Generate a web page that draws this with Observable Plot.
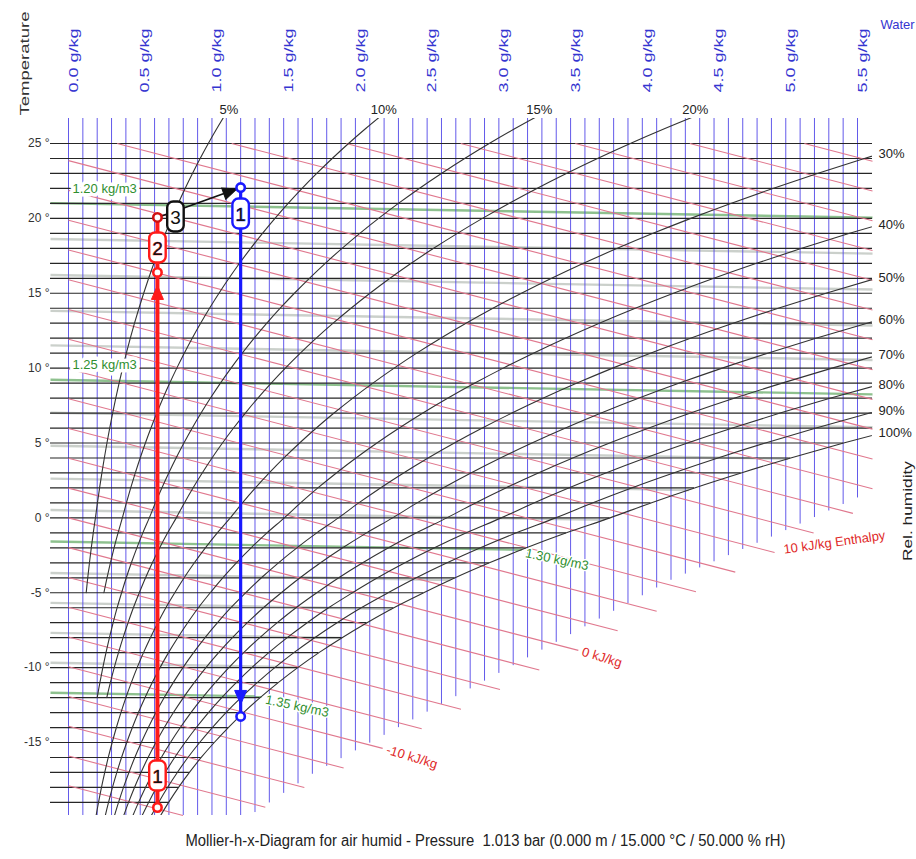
<!DOCTYPE html>
<html><head><meta charset="utf-8">
<script src="https://cdn.jsdelivr.net/npm/d3@7"></script>
<script src="https://cdn.jsdelivr.net/npm/@observablehq/plot@0.6"></script>
<style>body{margin:0;background:#fff} #chart svg{display:block}</style>
</head><body><div id="chart"></div>
<script>
// ---------------- data ----------------
const waterTicks = [0, 0.5, 1, 1.5, 2, 2.5, 3, 3.5, 4, 4.5, 5, 5.5];       // g/kg labels
const waterGrid = d3.range(0, 56).map(i => i / 10);                        // 0.1 g/kg grid
const tempTicks = [25, 20, 15, 10, 5, 0, -5, -10, -15];                    // °C labels
const tempGrid = d3.range(-19, 26);                                        // 1 °C isotherms
const pressure = 1013.25;                                                  // hPa
const satT = d3.range(-20, 28);                                            // °C
const satX = [0.634,0.698,0.767,0.843,0.925,1.016,1.114,1.220,1.336,1.462,
              1.598,1.746,1.907,2.081,2.268,2.476,2.695,2.934,3.192,3.471,
              3.775,4.060,4.364,4.689,5.034,5.403,5.796,6.213,6.657,7.130,
              7.632,8.165,8.732,9.334,9.973,10.651,11.369,12.131,12.938,13.794,
              14.700,15.659,16.674,17.749,18.885,20.087,21.359,22.703];   // saturation g/kg
const rhLevels = [5, 10, 15, 20, 30, 40, 50, 60, 70, 80, 90, 100];
const rhStartT = [-5, -5, -12, -12, -20, -20, -20, -20, -20, -20, -20, -20];
const enthalpyLevels = d3.range(-18, 40, 2);                               // kJ/kg
const enthalpySlope = 2.49;                                                // °C per g/kg
const enthalpyLabels = [-10, 0, 10];
const densityLevels = [1.20,1.21,1.22,1.23,1.24,1.25,1.26,1.27,1.28,1.29,1.30,1.31,1.32,1.33,1.34,1.35];
const densityT0 = [21.0,18.6,16.2,13.8,11.5,9.2,7.0,4.8,2.6,0.5,-1.6,-3.7,-5.7,-7.7,-9.7,-11.7];
const densitySlope = -0.17;                                                // °C per g/kg
const densityLabelled = [1.20, 1.25, 1.30, 1.35];
const fogEdgeX = [1.269, 1.708, 3.011, 4.197, 4.894, 5.507, 5.605];
const fogEdgeT = [-19.875, -17.07, -10.33, -4.18, -1.31, 1.36, 1.83];
const enthalpyEndX = [1.255, 3.548, 5.605];
const enthalpyEndT = [-19.875, -8.87, 0.96];
const procX = [0.62, 0.62, 0.62, 1.2, 1.2];
const procT = [-19.34, 16.39, 20.06, 22.06, -13.26];
const procColor = ["#ff1a1a", "#ff1a1a", "#d01010", "#1a1aff", "#1a1aff"];

// ---------------- geometry ----------------
const W = 916, H = 859, M = {top: 118, right: 44, bottom: 44, left: 50};
const X_DOMAIN = [0, 5.5], X_RANGE = [68, 857], Y_DOMAIN = [-15, 25], Y_RANGE = [742, 143];
const xs = d3.scaleLinear(X_DOMAIN, X_RANGE), ys = d3.scaleLinear(Y_DOMAIN, Y_RANGE);
const xL = xs.invert(M.left), xR = xs.invert(W - M.right);
const yTop = ys.invert(M.top), yBot = ys.invert(H - M.bottom);

function interp(a, b, v) {
  if (v <= a[0]) return b[0];
  for (let i = 1; i < a.length; i++) if (v <= a[i]) {
    const t = (v - a[i-1]) / (a[i] - a[i-1]); return b[i-1] + t * (b[i] - b[i-1]);
  }
  return b[b.length - 1];
}
const xSat = T => interp(satT, satX, T);
const vB = x => x < fogEdgeX[0] ? yBot : interp(fogEdgeX, fogEdgeT, x);
const hB = x => x < enthalpyEndX[0] ? yBot : interp(enthalpyEndX, enthalpyEndT, x);

const rhX = (phi, i) => { const ps = satX[i] * pressure / (622 + satX[i]); const pv = phi / 100 * ps; return 622 * pv / (pressure - pv); };
const rhCurves = rhLevels.flatMap((phi, k) => satT.map((t, i) => ({phi, t, x: rhX(phi, i)})).filter(d => d.t >= rhStartT[k]));
const rhEnds = rhLevels.map(phi => {
  const pts = rhCurves.filter(d => d.phi === phi);
  const xt = interp(pts.map(d => d.t), pts.map(d => d.x), yTop);
  if (xt <= xR) return {phi, x: xt, t: yTop, side: "top"};
  return {phi, x: xR, t: interp(pts.map(d => d.x), pts.map(d => d.t), xR), side: "right"};
});

const enthalpyLines = enthalpyLevels.map(h => {
  const T0 = h / 1.006;
  let x1 = 0, y1 = T0;
  if (T0 > 25) { x1 = (T0 - 25) / enthalpySlope; y1 = 25; }
  const f = x => T0 - enthalpySlope * x;
  let x2 = x1;
  while (x2 < xR && f(x2) > Math.max(yBot, hB(x2))) x2 += 0.002;
  x2 = Math.min(x2, xR);
  return {h, x1, y1, x2, y2: f(x2)};
}).filter(d => d.x1 < xR);

const densLines = densityLevels.map((rho, i) => {
  const f = x => densityT0[i] + densitySlope * x;
  let x2 = xL;
  while (x2 < xR && x2 < xSat(f(x2))) x2 += 0.002;
  x2 = Math.min(x2, xR);
  return {rho, x1: xL, y1: f(xL), x0: 0, y0: f(0), x2, y2: f(x2), labelled: densityLabelled.includes(rho)};
});

const pts = procX.map((x, i) => ({x, t: procT[i], color: procColor[i]}));
const segs = [[0, 1, "#ff1a1a", 4], [1, 2, "#ff1a1a", 4], [2, 3, "#111", 1.8], [3, 4, "#1a1aff", 3.2]]
  .map(([a, b, c, w]) => ({x1: pts[a].x, y1: pts[a].t, x2: pts[b].x, y2: pts[b].t, c, w}));

const pill = {draw(ctx, size) {
  const s = Math.sqrt(size / Math.PI), w = s * 0.55, h = s, r = Math.min(w, 6);
  ctx.moveTo(-w + r, -h); ctx.lineTo(w - r, -h); ctx.arcTo(w, -h, w, -h + r, r);
  ctx.lineTo(w, h - r); ctx.arcTo(w, h, w - r, h, r); ctx.lineTo(-w + r, h);
  ctx.arcTo(-w, h, -w, h - r, r); ctx.lineTo(-w, -h + r); ctx.arcTo(-w, -h, -w + r, -h, r); ctx.closePath();
}};
const head = {draw(ctx, size) {
  const s = Math.sqrt(size / Math.PI) / 8;
  ctx.moveTo(0, -8 * s); ctx.lineTo(6 * s, 6 * s); ctx.lineTo(-6 * s, 6 * s); ctx.closePath();
}};

// black arrow direction (pixel space)
const bdx = xs(pts[3].x) - xs(pts[2].x), bdy = ys(pts[3].t) - ys(pts[2].t);
const bl = Math.hypot(bdx, bdy), bang = Math.atan2(bdy, bdx) * 180 / Math.PI + 90;

const marks = [
  Plot.link(densLines.filter(d => !d.labelled), {x1: "x1", y1: "y1", x2: "x2", y2: "y2", stroke: "#a8b0a8", strokeWidth: 2.4, strokeOpacity: 0.6}),
  Plot.link(densLines.filter(d => d.labelled), {x1: "x1", y1: "y1", x2: "x2", y2: "y2", stroke: "#7ab67a", strokeWidth: 2.4, strokeOpacity: 0.85}),
  Plot.ruleX(waterGrid, {x: d => d, y1: () => yTop, y2: d => Math.max(yBot, vB(d)), stroke: "#5248e8", strokeWidth: 1, strokeOpacity: 0.9}),
  Plot.ruleY(tempGrid, {y: d => d, x1: () => xL, x2: d => Math.min(xR, xSat(d)), stroke: "#262626", strokeWidth: 1.2}),
  Plot.link(enthalpyLines, {x1: "x1", y1: "y1", x2: "x2", y2: "y2", stroke: "#e0788e", strokeWidth: 1.1}),
  Plot.line(rhCurves, {x: "x", y: "t", z: "phi", curve: "catmull-rom", stroke: "#333", strokeWidth: 1.1, clip: true}),
  // axis texts
  Plot.text(waterTicks, {x: d => d, text: d => d.toFixed(1) + " g/kg", frameAnchor: "top", dy: -58, rotate: -90, fill: "#3535d0", fontSize: 13}),
  Plot.text(tempTicks, {y: d => d, text: d => d + " °", frameAnchor: "left", dx: -1, textAnchor: "end", fill: "#333", fontSize: 12}),
  Plot.text(["Temperature"], {text: d => d, frameAnchor: "top-left", textAnchor: "middle", dx: -31, dy: -55, rotate: -90, fill: "#333", fontSize: 13}),
  Plot.text(["Water"], {text: d => d, frameAnchor: "top-right", textAnchor: "middle", dx: 25, dy: -99, fill: "#3535d0", fontSize: 13}),
  Plot.text(["Rel. humidity"], {text: d => d, frameAnchor: "right", textAnchor: "middle", dx: 35, dy: 44, rotate: -90, fill: "#222", fontSize: 13}),
  Plot.text(["Mollier-h-x-Diagram for air humid - Pressure  1.013 bar (0.000 m / 15.000 °C / 50.000 % rH)"], {text: d => d, frameAnchor: "bottom", textAnchor: "middle", dx: 24, dy: 30, fill: "#222", fontSize: 16}),
  // RH labels
  Plot.text(rhEnds.filter(d => d.side === "top"), {x: "x", y: "t", text: d => d.phi + "%", dx: 6, dy: -9, fill: "#222", fontSize: 13}),
  Plot.text(rhEnds.filter(d => d.side === "right"), {x: "x", y: "t", text: d => d.phi + "%", dx: 6, dy: -2, textAnchor: "start", fill: "#222", fontSize: 13}),
  // density labels
  Plot.text(densLines.filter(d => d.labelled && d.x2 >= xR), {x: "x0", y: "y0", text: d => d.rho.toFixed(2) + " kg/m3", dx: 4, dy: -15, textAnchor: "start", fill: "#2f8f2f", fontSize: 13, stroke: "white", strokeWidth: 7, paintOrder: "stroke"}),
  Plot.text(densLines.filter(d => d.labelled && d.x2 < xR), {x: "x2", y: "y2", text: d => d.rho.toFixed(2) + " kg/m3", dx: 4, dy: 3, rotate: 12, textAnchor: "start", fill: "#2f8f2f", fontSize: 13, stroke: "white", strokeWidth: 3, paintOrder: "stroke"}),
  // enthalpy labels
  Plot.text(enthalpyLines.filter(d => enthalpyLabels.includes(d.h) && d.h < 10), {x: "x2", y: "y2", text: d => d.h + " kJ/kg", dx: 4, dy: 1, rotate: 17, textAnchor: "start", fill: "#e02828", fontSize: 13}),
  Plot.text(enthalpyLines.filter(d => d.h === 10), {x: "x2", y: "y2", text: d => d.h + " kJ/kg Enthalpy", dx: 9, dy: -3, rotate: -8, textAnchor: "start", fill: "#e02828", fontSize: 13}),
  // process
  Plot.link(segs, {x1: "x1", y1: "y1", x2: "x2", y2: "y2", stroke: "c", strokeWidth: "w"}),
  Plot.dot([pts[1]], {x: "x", y: "t", symbol: head, r: 8, fill: "#ff1a1a", stroke: "#ff1a1a", strokeWidth: 1, dy: 21}),
  Plot.dot([pts[4]], {x: "x", y: "t", symbol: head, r: 8, fill: "#1a1aff", stroke: "#1a1aff", strokeWidth: 1, dy: -20, rotate: 180}),
  Plot.dot([pts[3]], {x: "x", y: "t", symbol: head, r: 8, fill: "#111", stroke: "#111", strokeWidth: 1, dx: -12 * bdx / bl, dy: -12 * bdy / bl, rotate: bang}),
  Plot.dot(pts, {x: "x", y: "t", r: 4.2, fill: "white", stroke: "color", strokeWidth: 2.6})
];
const labelSpecs = [[0, "1", "#ff1a1a", 0, -32], [1, "2", "#ff1a1a", 0, -25], [2, "3", "#111", 18, -1], [3, "1", "#1a1aff", 0, 26]];
for (const [i, txt, col, dx, dy] of labelSpecs) {
  marks.push(Plot.dot([pts[i]], {x: "x", y: "t", symbol: pill, r: 15, fill: "white", stroke: col, strokeWidth: 2.4, dx, dy}));
  marks.push(Plot.text([pts[i]], {x: "x", y: "t", text: () => txt, fill: "#111", stroke: col === "#111" ? "none" : col, strokeWidth: 0.6, fontSize: 19, dx, dy: dy + 1}));
}

const svg = Plot.plot({
  width: W, height: H,
  marginTop: M.top, marginRight: M.right, marginBottom: M.bottom, marginLeft: M.left,
  x: {domain: X_DOMAIN, range: X_RANGE, axis: null},
  y: {domain: Y_DOMAIN, range: Y_RANGE, axis: null},
  style: {fontFamily: "'Liberation Sans', Arial, sans-serif", background: "white"},
  marks
});
svg.querySelectorAll("text").forEach(t => {
  const s = t.textContent; let L = null;
  if (/ g\/kg$/.test(s)) L = 64;
  else if (s === "Temperature") L = 104;
  else if (s === "Rel. humidity") L = 100;
  else if (s.startsWith("Mollier")) L = 600;
  if (L) { t.setAttribute("textLength", L); t.setAttribute("lengthAdjust", "spacingAndGlyphs"); }
});
document.getElementById("chart").appendChild(svg);
</script>
</body></html>
